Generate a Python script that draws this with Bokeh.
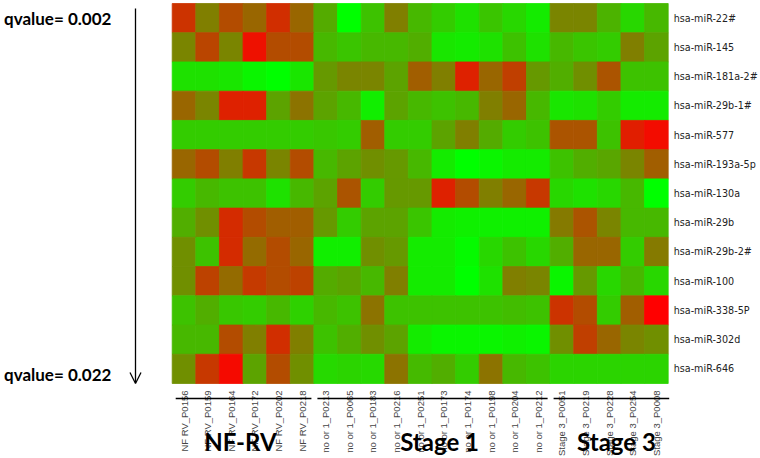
import math
from bokeh.plotting import figure
from bokeh.models import ColumnDataSource, LinearColorMapper, Range1d, Arrow, OpenHead
from bokeh.embed import file_html
from bokeh.resources import INLINE

samples = ["NF RV_P0156", "NF RV_P0159", "NF RV_P0164", "NF RV_P0172", "NF RV_P0202", "NF RV_P0218",
           "no or 1_P0213", "no or 1_P0065", "no or 1_P0183", "no or 1_P0216", "no or 1_P0251",
           "no or 1_P0173", "no or 1_P0174", "no or 1_P0198", "no or 1_P0204", "no or 1_P0212",
           "Stage 3_P0051", "Stage 3_P0219", "Stage 3_P0228", "Stage 3_P0254", "Stage 3_P0008"]

mirnas = ["hsa-miR-22#", "hsa-miR-145", "hsa-miR-181a-2#", "hsa-miR-29b-1#", "hsa-miR-577",
          "hsa-miR-193a-5p", "hsa-miR-130a", "hsa-miR-29b", "hsa-miR-29b-2#", "hsa-miR-100",
          "hsa-miR-338-5P", "hsa-miR-302d", "hsa-miR-646"]

groups = ["NF-RV", "Stage 1", "Stage 3"]
group_sizes = [6, 10, 5]
qvalue_labels = ["qvalue= 0.002", "qvalue= 0.022"]

# relative expression (0 = green / low, 1 = red / high), one list per miRNA row
miR_22s = [0.80, 0.50, 0.70, 0.60, 0.82, 0.60, 0.33, 0.00, 0.24, 0.50, 0.28, 0.20, 0.12, 0.23, 0.16, 0.08, 0.48, 0.48, 0.30, 0.16, 0.28]
miR_145 = [0.48, 0.73, 0.48, 0.93, 0.70, 0.70, 0.28, 0.23, 0.28, 0.28, 0.32, 0.10, 0.08, 0.12, 0.24, 0.12, 0.28, 0.23, 0.20, 0.50, 0.36]
miR_181a_2s = [0.12, 0.12, 0.10, 0.04, 0.00, 0.10, 0.40, 0.48, 0.48, 0.36, 0.63, 0.50, 0.87, 0.60, 0.75, 0.40, 0.32, 0.44, 0.67, 0.24, 0.24]
miR_29b_1s = [0.60, 0.48, 0.87, 0.87, 0.36, 0.55, 0.36, 0.28, 0.07, 0.36, 0.28, 0.24, 0.28, 0.50, 0.60, 0.28, 0.10, 0.12, 0.20, 0.08, 0.08]
miR_577 = [0.20, 0.20, 0.20, 0.20, 0.20, 0.20, 0.22, 0.20, 0.63, 0.20, 0.20, 0.36, 0.50, 0.33, 0.20, 0.24, 0.67, 0.67, 0.24, 0.88, 0.95]
miR_193a_5p = [0.60, 0.70, 0.50, 0.78, 0.48, 0.70, 0.28, 0.36, 0.44, 0.40, 0.28, 0.08, 0.00, 0.04, 0.08, 0.08, 0.24, 0.32, 0.35, 0.48, 0.63]
miR_130a = [0.20, 0.28, 0.24, 0.24, 0.12, 0.28, 0.36, 0.67, 0.20, 0.40, 0.40, 0.87, 0.70, 0.50, 0.60, 0.78, 0.16, 0.12, 0.16, 0.28, 0.00]
miR_29b = [0.32, 0.44, 0.83, 0.70, 0.63, 0.63, 0.40, 0.20, 0.36, 0.36, 0.23, 0.08, 0.06, 0.06, 0.06, 0.06, 0.52, 0.67, 0.48, 0.28, 0.28]
miR_29b_2s = [0.44, 0.24, 0.83, 0.58, 0.70, 0.60, 0.07, 0.07, 0.44, 0.40, 0.08, 0.08, 0.02, 0.16, 0.24, 0.16, 0.32, 0.60, 0.60, 0.20, 0.52]
miR_100 = [0.44, 0.74, 0.58, 0.77, 0.70, 0.74, 0.33, 0.36, 0.28, 0.50, 0.08, 0.08, 0.00, 0.12, 0.50, 0.48, 0.04, 0.40, 0.16, 0.28, 0.16]
miR_338_5P = [0.24, 0.32, 0.22, 0.20, 0.28, 0.18, 0.28, 0.24, 0.55, 0.24, 0.24, 0.24, 0.24, 0.24, 0.26, 0.24, 0.80, 0.70, 0.20, 0.63, 1.00]
miR_302d = [0.28, 0.28, 0.70, 0.50, 0.82, 0.50, 0.24, 0.32, 0.44, 0.36, 0.08, 0.04, 0.04, 0.04, 0.06, 0.04, 0.44, 0.75, 0.60, 0.48, 0.44]
miR_646 = [0.44, 0.78, 0.96, 0.36, 0.70, 0.44, 0.15, 0.17, 0.15, 0.55, 0.27, 0.32, 0.20, 0.55, 0.28, 0.24, 0.17, 0.17, 0.17, 0.17, 0.17]

rows = [miR_22s, miR_145, miR_181a_2s, miR_29b_1s, miR_577, miR_193a_5p, miR_130a,
        miR_29b, miR_29b_2s, miR_100, miR_338_5P, miR_302d, miR_646]

# ---- layout (pixels inside the figure) ----
W, H = 760, 458
HEAT_LEFT, HEAT_TOP, HEAT_W, HEAT_H = 171.7, 3.0, 496.0, 380.0
n_col, n_row = len(samples), len(mirnas)
cw = HEAT_W / n_col          # pixels per column
rh = HEAT_H / n_row          # pixels per row

def px_x(px):  # horizontal pixel offset -> data units
    return px / cw

def px_y(px):
    return px / rh

# ---- heatmap cells ----
xs, ys, vals = [], [], []
for i, row in enumerate(rows):
    for j, v in enumerate(row):
        xs.append(j + 0.5)
        ys.append(n_row - i - 0.5)
        vals.append(v)
source = ColumnDataSource(dict(x=xs, y=ys, v=vals))

palette = ["#%02x%02x00" % (k, 255 - k) for k in range(256)]
mapper = LinearColorMapper(palette=palette, low=0.0, high=1.0)

p = figure(width=W, height=H, output_backend="svg", toolbar_location=None,
           x_range=Range1d(-px_x(HEAT_LEFT), px_x(W - HEAT_LEFT)),
           y_range=Range1d(-px_y(H - HEAT_TOP - HEAT_H), n_row + px_y(HEAT_TOP)),
           x_axis_location=None, y_axis_location=None,
           min_border=0, min_border_left=0, min_border_right=0,
           min_border_top=0, min_border_bottom=0)
p.outline_line_color = None
p.grid.visible = False
p.background_fill_color = "white"
p.border_fill_color = "white"

p.rect(x="x", y="y", width=1, height=1, source=source,
       fill_color={"field": "v", "transform": mapper},
       line_color={"field": "v", "transform": mapper}, line_width=0.8)

# ---- row labels (right) ----
p.text(x=[n_col + px_x(5.5)] * n_row, y=[n_row - i - 0.5 for i in range(n_row)], text=mirnas,
       text_align="left", text_baseline="middle", text_font={"value": "DejaVu Sans"},
       text_font_size="9.6px", text_color="#222222")

# ---- sample labels (below, vertical) ----
p.text(x=[j + 0.5 for j in range(n_col)], y=[-px_y(7)] * n_col, text=samples,
       angle=math.pi / 2, text_align="right", text_baseline="middle",
       text_font={"value": "Liberation Sans"}, text_font_size="9.5px", text_color="#444444")

# ---- group lines and group titles ----
line_y = -px_y(15)
title_y = -px_y(58)
title_dx = [-2.6, 7.6, 7.3]
gx0, gx1, gcx = [], [], []
start = 0
for n, dx in zip(group_sizes, title_dx):
    end = start + n
    gx0.append(start + px_x(3.5))
    gx1.append(end - px_x(2.5) + (px_x(3.5) if end == n_col else 0))
    gcx.append((start + end) / 2 + px_x(dx))
    start = end
p.segment(x0=gx0, y0=[line_y] * len(groups), x1=gx1, y1=[line_y] * len(groups),
          line_color="black", line_width=1.5)
p.text(x=gcx, y=[title_y] * len(groups), text=groups, text_align="center",
       text_baseline="middle", text_font={"value": "Lato"}, text_font_style="bold",
       text_font_size="24px", text_color="black")

# ---- q-value arrow and labels (left) ----
arrow_x = -px_x(HEAT_LEFT - 135)
p.add_layout(Arrow(x_start=arrow_x, y_start=n_row - px_y(5), x_end=arrow_x, y_end=0,
                   line_color="black", line_width=1.3,
                   end=OpenHead(size=11, line_color="black", line_width=1.3)))
p.text(x=[-px_x(HEAT_LEFT - 3.5)] * 2, y=[n_row - px_y(15), px_y(9)], text=qvalue_labels,
       text_align="left", text_baseline="middle", text_font={"value": "Lato"},
       text_font_style="bold", text_font_size="17px", text_color="black")

open("out.html", "w").write(file_html(p, INLINE))
